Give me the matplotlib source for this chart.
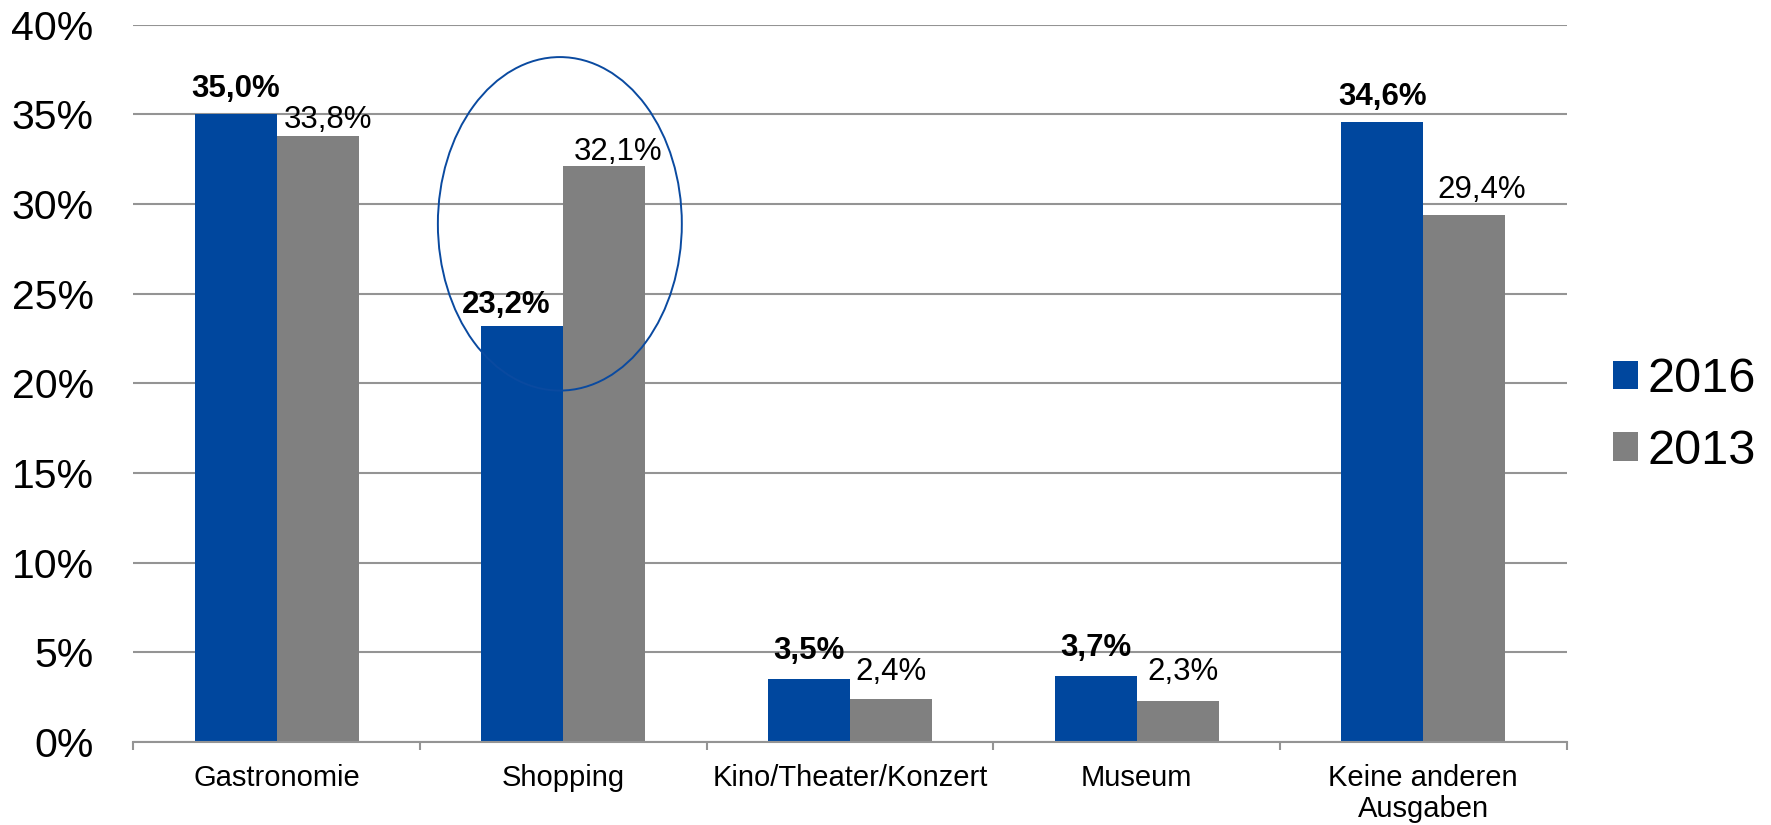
import matplotlib
matplotlib.use("Agg")
import matplotlib.pyplot as plt
from matplotlib.patches import Ellipse, Patch
import numpy as np

plt.rcParams['font.family'] = ['Liberation Sans', 'DejaVu Sans']

# Data
categories = ["Gastronomie", "Shopping", "Kino/Theater/Konzert", "Museum",
              "Keine anderen\nAusgaben"]
series_names = ["2016", "2013"]
values_2016 = [35.0, 23.2, 3.5, 3.7, 34.6]
values_2013 = [33.8, 32.1, 2.4, 2.3, 29.4]
y_ticks = [0, 5, 10, 15, 20, 25, 30, 35, 40]

# Styling
BLUE = "#00479E"
GRAY = "#808080"
GRID = "#949494"
BAR_W = 0.286
PX = 0.72  # points per pixel at dpi 100

# Per-label nudges (dx, dy) in pixels relative to bar centre / bar top
offsets_2016 = [(0, 17), (-16, 13), (0, 20), (0, 20), (0, 17)]
offsets_2013 = [(10, 8), (14, 6), (0, 19), (5, 21), (17, 17)]

fig = plt.figure(figsize=(17.71, 8.25), dpi=100)
ax = fig.add_axes([133.3 / 1771, 1 - 742 / 825, (1566.6 - 133.3) / 1771,
                   (742 - 24.8) / 825])

x = np.arange(len(categories))
bars16 = ax.bar(x - BAR_W / 2, values_2016, BAR_W, color=BLUE, zorder=3,
                label=series_names[0])
bars13 = ax.bar(x + BAR_W / 2, values_2013, BAR_W, color=GRAY, zorder=3,
                label=series_names[1])

ax.set_xlim(-0.5, len(categories) - 0.5)
ax.set_ylim(0, 40)

# Horizontal gridlines
ax.set_yticks(y_ticks)
ax.set_yticklabels([f"{t}%" for t in y_ticks])
ax.yaxis.grid(True, color=GRID, linewidth=1.5, zorder=0)
ax.set_axisbelow(True)
ax.tick_params(axis='y', length=0, pad=28.5, labelsize=29.5, labelcolor='black')

# Category labels centred, boundary ticks as minor ticks
ax.set_xticks(x)
ax.set_xticklabels(categories, fontsize=21, linespacing=1.17)
ax.tick_params(axis='x', which='major', length=0, pad=15.5)
ax.set_xticks(np.arange(len(categories) + 1) - 0.5, minor=True)
ax.tick_params(axis='x', which='minor', length=6, width=1.5, color=GRID,
               direction='out')

for side in ['top', 'right', 'left']:
    ax.spines[side].set_visible(False)
ax.spines['bottom'].set_color(GRID)
ax.spines['bottom'].set_linewidth(1.5)
ax.spines['bottom'].set_zorder(4)

# Value labels
def fmt(v):
    return f"{v:.1f}".replace(".", ",") + "%"

for bar, v, (dx, dy) in zip(bars16, values_2016, offsets_2016):
    ax.annotate(fmt(v), (bar.get_x() + bar.get_width() / 2, v),
                xytext=(dx * PX, dy * PX), textcoords='offset points',
                ha='center', va='baseline', fontsize=22.5, fontweight='bold',
                zorder=5)
for bar, v, (dx, dy) in zip(bars13, values_2013, offsets_2013):
    ax.annotate(fmt(v), (bar.get_x() + bar.get_width() / 2, v),
                xytext=(dx * PX, dy * PX), textcoords='offset points',
                ha='center', va='baseline', fontsize=22.5, zorder=5)

# Highlight ring around the Shopping pair
ax.add_patch(Ellipse((0.988, 28.9), 0.851, 18.6, fill=False,
                     edgecolor="#0A4AA0", linewidth=1.4, zorder=6,
                     clip_on=False))

# Legend
handles = [Patch(facecolor=BLUE), Patch(facecolor=GRAY)]
fig.legend(handles, series_names, loc='center left',
           bbox_to_anchor=(1613 / 1771, 1 - 415.5 / 825), frameon=False,
           fontsize=35, handlelength=0.52, handleheight=0.52,
           handletextpad=0.2, labelspacing=0.55, borderpad=0,
           borderaxespad=0)

fig.savefig("out.png", dpi=100)
